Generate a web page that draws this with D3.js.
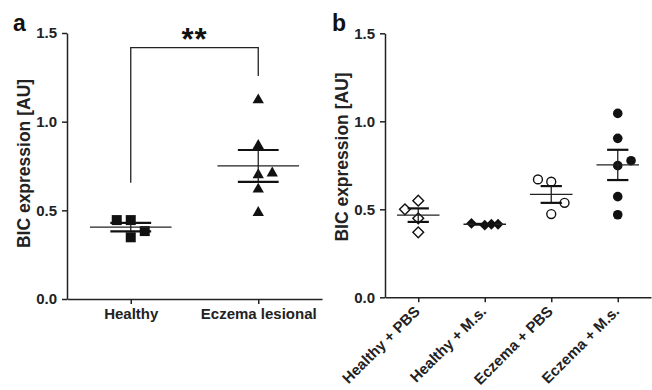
<!DOCTYPE html>
<html>
<head>
<meta charset="utf-8">
<script src="https://cdn.jsdelivr.net/npm/d3@7"></script>
<style>
  body { margin: 0; background: #fff; }
  svg { display: block; font-family: "Liberation Sans", Arial, sans-serif; font-weight: bold; }
  .axis path, .axis line { stroke: #222; stroke-width: 1.5; }
  .axis text { fill: #222; font-size: 15px; font-weight: bold; font-family: "Liberation Sans", Arial, sans-serif; }
</style>
</head>
<body>
<svg id="chart" width="652" height="390"></svg>
<script>
//-----------------------------------------------------//

// Panel a data
const groupsA = ["Healthy", "Eczema lesional"];
const healthyVals = [0.445, 0.445, 0.383, 0.348];
const healthyDodge = [-1, 0, 1, 0];
const eczemaVals = [1.122, 0.865, 0.70, 0.71, 0.619, 0.487];
const eczemaDodge = [0, 0, 0, 1, 0, 0];

// Panel b data
const groupsB = ["Healthy + PBS", "Healthy + M.s.", "Eczema + PBS", "Eczema + M.s."];
const healthyPbsVals = [0.50, 0.549, 0.449, 0.369];
const healthyPbsDodge = [-1, 0, 0, 0];
const healthyMsVals = [0.42, 0.41, 0.415, 0.415];
const healthyMsDodge = [-1, 0, 0.5, 1];
const eczemaPbsVals = [0.67, 0.657, 0.537, 0.473];
const eczemaPbsDodge = [-1, 0, 1, 0];
const eczemaMsVals = [1.045, 0.903, 0.748, 0.776, 0.572, 0.469];
const eczemaMsDodge = [0, 0, 0, 1, 0, 0];

const yTicks = [0, 0.5, 1.0, 1.5];
const yTitle = "BIC expression [AU]";

//-----------------------------------------------------//

const svg = d3.select("#chart");

function meanSem(vals)
{
  let m = d3.mean(vals);
  let sem = d3.deviation(vals) / Math.sqrt(vals.length);
  return {mean: m, sem: sem};
}

function drawPanel(opts)
{
  const g = svg.append("g");
  const x = d3.scalePoint().domain(opts.groups).range([opts.left, opts.right]).padding(0.5);
  const y = d3.scaleLinear().domain([0, 1.5]).range([opts.bottom, opts.top]);

  // axes
  g.append("g").attr("class", "axis")
    .attr("transform", `translate(${opts.left},0)`)
    .call(d3.axisLeft(y).tickValues(yTicks).tickFormat(d3.format(".1f")).tickSize(5).tickPadding(5).tickSizeOuter(0));

  const xAxis = g.append("g").attr("class", "axis")
    .attr("transform", `translate(0,${opts.bottom})`)
    .call(d3.axisBottom(x).tickSize(5).tickPadding(4).tickSizeOuter(0));

  if (opts.rotate)
  {
    xAxis.selectAll(".tick text")
      .attr("x", 0).attr("y", 0).attr("dy", 0)
      .attr("text-anchor", "end")
      .attr("transform", "translate(2,15) rotate(-45)");
  }

  // y title
  g.append("text")
    .attr("transform", `translate(${opts.titleX},${opts.titleY}) rotate(-90)`)
    .attr("text-anchor", "middle")
    .style("font-size", "17.5px")
    .style("fill", "#222")
    .text(yTitle);

  // panel letter
  g.append("text")
    .attr("x", opts.letterX).attr("y", 31)
    .style("font-size", "23px")
    .style("fill", "#111")
    .text(opts.letter);

  // series
  opts.series.forEach(function(s)
  {
    const cx = x(s.group);
    const st = meanSem(s.vals);
    const meanHalf = opts.step * 0.32;
    const capHalf = opts.step * 0.16;

    // points
    g.selectAll(null)
      .data(s.vals.map((v, i) => ({v: v, d: s.dodge[i]})))
      .enter().append("path")
      .attr("d", d3.symbol().type(s.shape).size(s.size))
      .attr("transform", d => `translate(${cx + d.d * opts.dodge},${y(d.v)})${s.rot ? " rotate(45)" : ""}`)
      .attr("fill", s.open ? "#fff" : "#111")
      .attr("stroke", "#111")
      .attr("stroke-width", s.open ? 1.4 : 0);

    // mean line
    g.append("line")
      .attr("x1", cx - meanHalf).attr("x2", cx + meanHalf)
      .attr("y1", y(st.mean)).attr("y2", y(st.mean))
      .attr("stroke", "#222").attr("stroke-width", 1.3);

    // error bar
    g.append("line")
      .attr("x1", cx).attr("x2", cx)
      .attr("y1", y(st.mean + st.sem)).attr("y2", y(st.mean - st.sem))
      .attr("stroke", "#222").attr("stroke-width", 1.3);

    [st.mean + st.sem, st.mean - st.sem].forEach(function(v)
    {
      g.append("line")
        .attr("x1", cx - capHalf).attr("x2", cx + capHalf)
        .attr("y1", y(v)).attr("y2", y(v))
        .attr("stroke", "#111").attr("stroke-width", 2.2);
    });
  });

  return {x: x, y: y, g: g};
}

// Panel a
const pa = drawPanel({
  groups: groupsA, left: 67, right: 322, top: 33, bottom: 299,
  step: (322 - 67) / 2, dodge: 14,
  titleX: 29.5, titleY: 163.5, letter: "a", letterX: 13,
  series: [
    {group: "Healthy", vals: healthyVals, dodge: healthyDodge, shape: d3.symbolSquare, size: 100},
    {group: "Eczema lesional", vals: eczemaVals, dodge: eczemaDodge, shape: d3.symbolTriangle, size: 56}
  ]
});

// significance bracket
const bracketTop = 1.417, bracketLeft = 0.656, bracketRight = 1.258;
pa.g.append("path")
  .attr("d", d3.line()([
    [pa.x("Healthy"), pa.y(bracketLeft)],
    [pa.x("Healthy"), pa.y(bracketTop)],
    [pa.x("Eczema lesional"), pa.y(bracketTop)],
    [pa.x("Eczema lesional"), pa.y(bracketRight)]
  ]))
  .attr("fill", "none").attr("stroke", "#222").attr("stroke-width", 1.3);

pa.g.append("text")
  .attr("x", (pa.x("Healthy") + pa.x("Eczema lesional")) / 2)
  .attr("y", pa.y(bracketTop) + 2)
  .attr("text-anchor", "middle")
  .style("font-size", "31px")
  .style("letter-spacing", "1px")
  .style("fill", "#111")
  .text("**");

// Panel b
drawPanel({
  groups: groupsB, left: 385, right: 651, top: 33.3, bottom: 297.3,
  step: (651 - 385) / 4, dodge: 13.3, rotate: true,
  titleX: 347.5, titleY: 157, letter: "b", letterX: 332,
  series: [
    {group: "Healthy + PBS", vals: healthyPbsVals, dodge: healthyPbsDodge, shape: d3.symbolSquare, size: 58, rot: true, open: true},
    {group: "Healthy + M.s.", vals: healthyMsVals, dodge: healthyMsDodge, shape: d3.symbolSquare, size: 58, rot: true},
    {group: "Eczema + PBS", vals: eczemaPbsVals, dodge: eczemaPbsDodge, shape: d3.symbolCircle, size: 62, open: true},
    {group: "Eczema + M.s.", vals: eczemaMsVals, dodge: eczemaMsDodge, shape: d3.symbolCircle, size: 72}
  ]
});
</script>
</body>
</html>
